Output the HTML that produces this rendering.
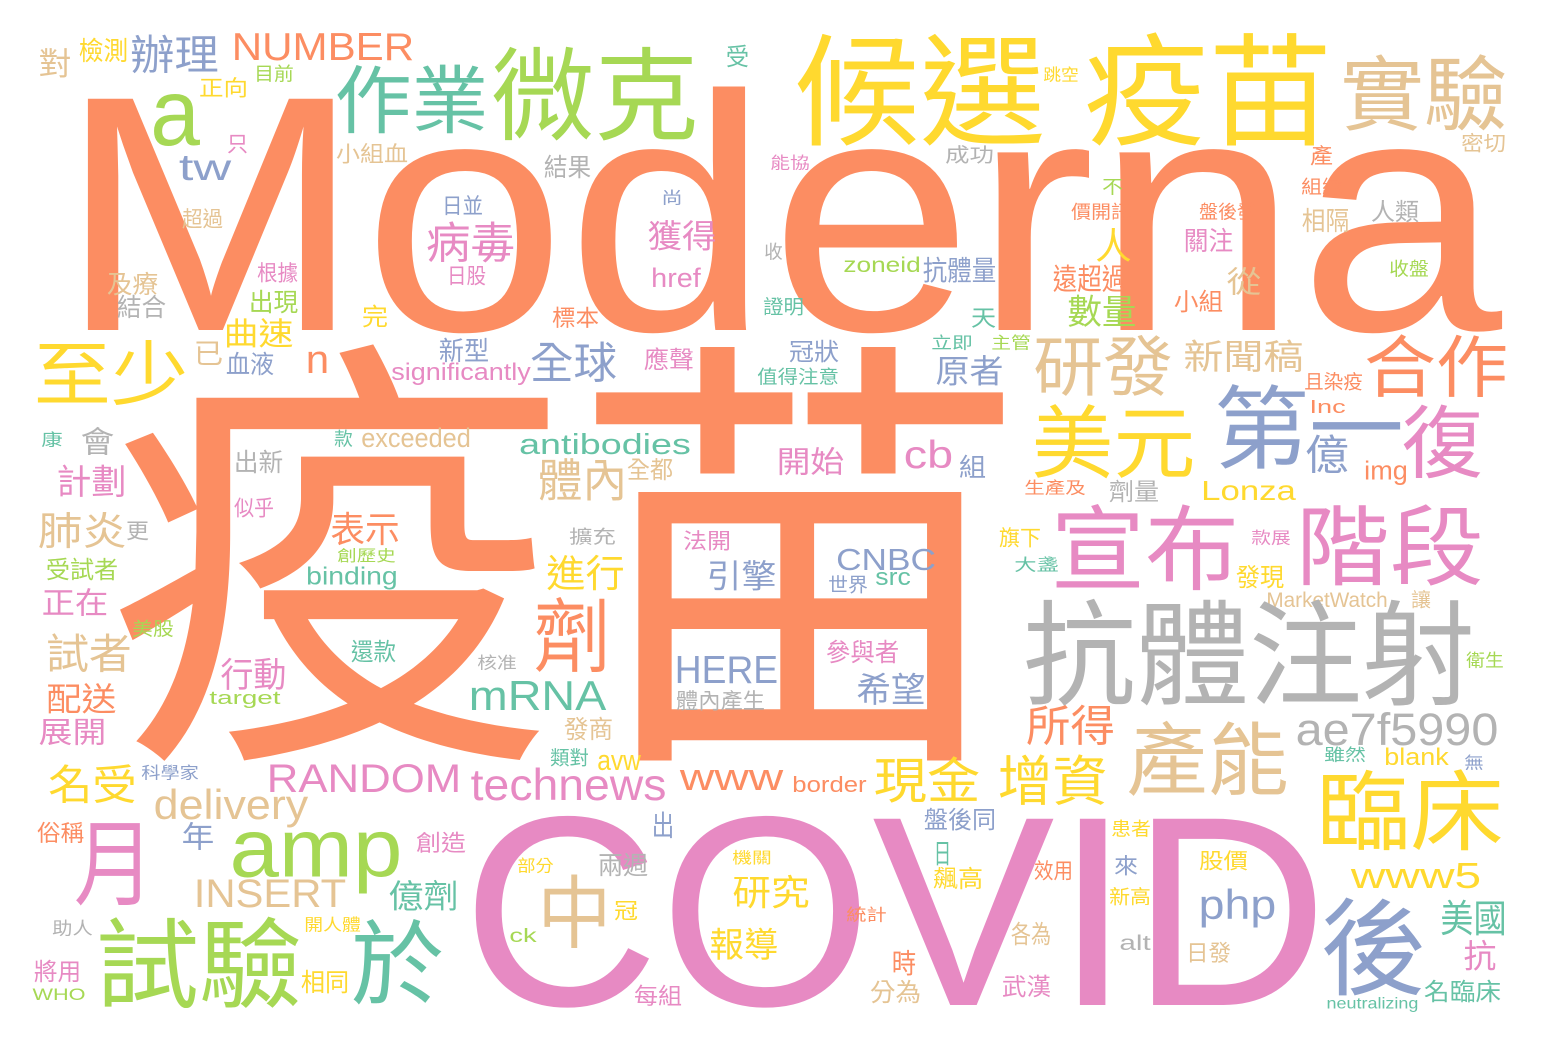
<!DOCTYPE html>
<html lang="zh-Hant">
<head>
<meta charset="utf-8">
<title>Moderna 疫苗 Word Cloud</title>
<style>
  html,body{margin:0;padding:0;background:#fff;}
  body{width:1548px;height:1052px;overflow:hidden;}
  svg{display:block;}
  text{font-family:"Liberation Sans","Noto Sans CJK TC","Noto Sans CJK SC",sans-serif;}
</style>
</head>
<body>
<svg id="cloud" width="1548" height="1052" viewBox="0 0 1548 1052" xmlns="http://www.w3.org/2000/svg">
  <rect x="0" y="0" width="1548" height="1052" fill="#ffffff"></rect>
</svg>
<script>
// word list, color keys, glyph kinds and ink boxes (x0,y0,x1,y1)
const words = ["Moderna","疫苗","COVID","候選","疫苗","實驗","微克","作業","a","tw","辦理","NUMBER","檢測","對","目前","正向","只","小組血","超過","日並","病毒","日股","根據","及療","結合","出現","完","曲速","至少","已","血液","n","新型","significantly","康","會","款","exceeded","出新","計劃","似乎","肺炎","更","表示","創歷史","受試者","binding","正在","美股","試者","還款","核准","行動","配送","target","mRNA","展開","名受","科學家","RANDOM","technews","delivery","俗稱","月","年","amp","創造","INSERT","億劑","助人","開人體","試驗","於","將用","WHO","相同",
"受","結果","能協","成功","尚","獲得","收","zoneid","抗體量","href","證明","標本","天","立即","主管","全球","應聲","冠狀","值得注意","原者","antibodies","體內","全都","開始","cb","組",
"跳空","密切","產","不","組織","價開訊","盤後發","相隔","人類","人","關注","收盤","遠超過","從","數量","小組","研發","新聞稿","合作","且染疫","Inc","美元","第一","億","復","img","生產及","劑量","Lonza",
"宣布","階段","款展","旗下","大盞","發現","MarketWatch","讓","抗體注射","衛生","所得","ae7f5990","產能","雖然","blank","無","增資","臨床","患者","來","效用","股價","www5","新高","php","美國","後","alt","日發","抗","名臨床","neutralizing",
"擴充","法開","引擎","CNBC","世界","src","進行","劑","參與者","HERE","希望","體內產生","發商","類對","avw","www","border","現金","出","盤後同","部分","兩週","中","冠","ck","機關","研究","日","飆高","統計","報導","時","各為","分為","武漢","每組"];
const colorKeys = ["o","o","p","y","y","n","g","t","g","b","b","o","y","n","g","y","p","n","n","b","p","p","p","n","r","g","y","y","y","n","b","o","b","p","t","r","t","n","r","p","p","n","r","o","g","g","t","p","g","n","t","r","p","o","g","t","p","y","b","p","p","n","o","p","b","g","p","n","t","r","y","g","t","p","g","y",
"t","r","p","r","b","p","r","g","b","p","t","o","t","t","g","b","p","b","t","b","t","n","n","p","p","b",
"y","n","o","g","o","o","o","n","r","y","p","g","o","n","g","o","n","n","o","o","o","y","b","b","p","o","o","r","y",
"p","p","p","y","t","y","n","n","r","g","o","r","n","t","y","b","y","y","y","b","o","y","y","y","b","t","b","r","n","p","t","t",
"r","p","b","b","b","t","y","o","p","b","b","r","n","t","y","o","o","y","b","b","y","r","n","y","g","y","y","t","y","o","y","o","n","n","p","p"];
const kinds = ["A","c","A","c","c","c","c","c","x","A","c","A","c","c","c","c","c","c","c","c","c","c","c","c","c","c","c","c","c","c","c","x","c","Ap","c","c","c","A","c","c","c","c","c","c","c","c","Ap","c","c","c","c","c","c","c","Ap","A","c","c","c","A","A","Ap","c","c","c","xp","c","A","c","c","c","c","c","c","A","c",
"c","c","c","c","c","c","c","A","c","A","c","c","c","c","c","c","c","c","c","c","Ap","c","c","c","A","c",
"c","c","c","c","c","c","c","c","c","c","c","c","c","c","c","c","c","c","c","c","A","c","c","c","c","Ap","c","c","A",
"c","c","c","c","c","c","A","c","c","c","c","A","c","c","A","c","c","c","c","c","c","c","A","c","Ap","c","c","A","c","c","c","Ap",
"c","c","c","A","c","x","c","c","c","A","c","c","c","c","x","x","A","c","c","c","c","c","c","c","A","c","c","c","c","c","c","c","c","c","c","c"];
const boxes = [[68,88,1492,330],[125,347,1010,760],[470,810,1320,1005],[799,33,1040,145],[1089,33,1327,145],[1344,55,1504,130],[495,47,694,140],[338,65,485,133],[153,95,197,145],[180,153,230,180],[132,35,217,73],[233,32,413,60],[80,38,127,62],[40,48,70,77],[255,65,293,82],[200,77,247,97],[228,133,247,153],[337,143,407,163],[183,208,222,228],[443,195,482,215],[428,222,513,262],[448,265,485,285],[258,262,297,282],[108,272,157,295],[118,295,165,318],[250,290,297,313],[363,305,387,327],[225,318,292,347],[37,340,185,405],[195,340,222,365],[227,352,273,375],[307,352,328,373],[440,338,488,362],[392,362,530,385],[42,432,62,447],[82,427,113,455],[335,430,352,447],[362,428,470,447],[235,450,282,473],[58,465,125,497],[235,497,273,517],[40,512,125,548],[127,520,148,540],[332,512,398,545],[338,548,395,562],[47,558,117,580],[307,566,397,590],[43,588,107,616],[133,620,173,637],[48,634,130,672],[352,640,395,662],[478,655,516,670],[222,658,285,690],[48,683,115,713],[210,690,280,708],[470,680,605,710],[40,718,105,745],[50,765,135,803],[142,765,198,780],[268,763,460,792],[472,768,665,800],[155,788,307,828],[38,822,83,843],[78,818,150,905],[183,822,213,850],[232,833,400,894],[417,832,465,853],[195,878,345,907],[390,880,457,910],[53,920,92,936],[305,917,360,932],[100,918,298,1008],[355,920,440,1005],[35,960,80,982],[33,988,85,1000],[302,970,348,993],
[727,45,748,67],[545,155,590,178],[771,155,809,170],[946,145,993,163],[662,190,682,205],[649,220,715,250],[765,243,782,260],[844,257,920,272],[924,257,995,282],[652,268,700,287],[764,297,803,315],[553,307,598,328],[972,307,995,328],[932,335,972,350],[992,335,1030,350],[532,342,615,382],[645,348,693,370],[790,340,838,362],[758,368,838,385],[937,355,1002,385],[520,433,690,460],[540,458,625,500],[628,458,672,480],[778,447,843,475],[905,440,952,468],[960,455,985,478],
[1044,67,1078,82],[1462,133,1505,152],[1311,145,1332,165],[1103,178,1122,195],[1302,178,1342,195],[1072,203,1130,220],[1200,203,1255,220],[1303,208,1348,232],[1372,200,1418,222],[1097,228,1130,262],[1185,228,1232,252],[1390,260,1428,277],[1054,265,1125,292],[1228,267,1260,295],[1069,295,1135,327],[1175,290,1222,312],[1036,335,1170,395],[1185,340,1302,372],[1367,335,1505,397],[1305,372,1362,390],[1310,400,1345,413],[1035,405,1192,478],[1218,385,1400,468],[1307,435,1347,473],[1405,405,1480,478],[1365,460,1407,485],[1025,480,1085,495],[1110,480,1158,502],[1202,480,1295,500],
[1055,505,1235,590],[1300,505,1480,585],[1252,530,1290,545],[1000,527,1040,547],[1015,557,1058,572],[1237,565,1283,588],[1267,592,1387,607],[1412,590,1430,608],[1028,600,1470,705],[1467,652,1503,668],[1028,705,1113,745],[1297,712,1497,745],[1130,722,1285,795],[1325,747,1365,762],[1385,748,1448,765],[1465,755,1483,770],[1000,755,1105,805],[1320,770,1500,850],[1112,820,1150,837],[1115,855,1137,875],[1035,860,1072,880],[1200,850,1247,870],[1352,862,1480,888],[1110,887,1150,905],[1200,888,1275,928],[1442,900,1505,935],[1325,898,1422,995],[1120,935,1150,950],[1187,942,1230,963],[1465,940,1495,970],[1425,980,1500,1002],[1327,997,1418,1012],
[570,528,615,545],[684,530,730,550],[708,560,775,590],[837,548,935,570],[829,575,867,593],[876,572,910,585],[548,555,623,590],[537,598,607,672],[827,640,898,663],[676,655,777,683],[858,673,924,705],[677,690,764,710],[565,717,612,740],[551,748,588,766],[598,755,640,770],[681,770,782,790],[793,776,866,792],[876,757,978,802],[653,812,673,838],[925,808,995,830],[518,858,553,873],[599,853,647,876],[541,875,608,948],[615,900,637,920],[510,928,536,942],[733,850,771,864],[734,875,808,908],[935,840,950,865],[934,867,982,889],[847,907,886,922],[711,928,777,960],[893,950,915,975],[1012,922,1050,945],[871,980,920,1003],[1003,975,1050,997],[635,985,681,1006]];

const palette = {o:"#fc8d62",t:"#66c2a5",b:"#8da0cb",p:"#e78ac3",g:"#a6d854",y:"#ffd92f",n:"#e5c494",r:"#b3b3b3"};
const metrics = {c:[0.84,0.08,0.09],A:[0.72,0,0.06],x:[0.53,0,0.06],Ap:[0.74,0.21,0.06],xp:[0.53,0.21,0.06]};

const svg = document.getElementById('cloud');
const NS = "http://www.w3.org/2000/svg";
for (let i = 0; i < words.length; i++) {
  const b = boxes[i];
  const m = metrics[kinds[i]];
  const size = (b[3] - b[1]) / (m[0] + m[1]);
  const base = b[3] - m[1] * size;
  const pad = m[2] * size;
  const t = document.createElementNS(NS, 'text');
  t.setAttribute('x', (b[0] - pad / 2).toFixed(1));
  t.setAttribute('y', base.toFixed(1));
  t.setAttribute('font-size', size.toFixed(1));
  t.setAttribute('fill', palette[colorKeys[i]]);
  t.setAttribute('textLength', (b[2] - b[0] + pad).toFixed(1));
  t.setAttribute('lengthAdjust', 'spacingAndGlyphs');
  t.textContent = words[i];
  
  
  svg.appendChild(t);
}
</script>
</body>
</html>
